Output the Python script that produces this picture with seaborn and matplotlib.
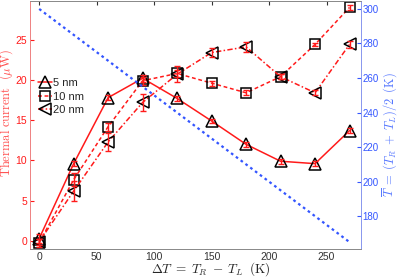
import numpy as np
import pandas as pd
import seaborn as sns
import matplotlib.pyplot as plt

# data
delta_t = [0, 30, 60, 90, 120, 150, 180, 210, 240, 270]
cur_5nm = [0.3, 9.6, 17.8, 20.2, 17.7, 14.9, 12.0, 9.9, 9.6, 13.7]
err_5nm = [0.6, 0.3, 0.3, 0.4, 0.3, 0.3, 0.3, 0.3, 0.3, 0.3]
cur_10nm = [-0.2, 7.6, 14.2, 19.9, 20.8, 19.6, 18.4, 20.4, 24.4, 29.0]
err_10nm = [0.5, 0.8, 0.5, 0.5, 0.4, 0.3, 0.3, 0.3, 0.2, 0.3]
cur_20nm = [-0.1, 6.2, 12.3, 17.2, 20.7, 23.4, 24.1, 20.4, 18.4, 24.4]
err_20nm = [0.4, 1.2, 1.1, 1.0, 1.0, 0.6, 0.6, 0.3, 0.3, 0.4]
labels = ['5 nm', '10 nm', '20 nm']

tbar_dt = [0, 270]
tbar = [300, 165]

sns.set_style("white")
plt.rcParams['mathtext.fontset'] = 'cm'
plt.rcParams['font.family'] = ['Liberation Sans', 'DejaVu Sans']

red = '#ff1a1a'
blue = '#3355ff'

fig = plt.figure(figsize=(3.99, 2.78), dpi=100)
ax = fig.add_axes([30 / 399, 1 - 249 / 278, 331 / 399, 248 / 278])
ax2 = ax.twinx()

# blue T-bar line on the right axis
sns.lineplot(x=tbar_dt, y=tbar, ax=ax2, color=blue, lw=1.6,
             linestyle=(0, (1.2, 1.5)))
ax2.annotate('', xy=(281, 195), xytext=(217, 195),
             arrowprops=dict(arrowstyle='-|>', color=blue, lw=1.0,
                             mutation_scale=8))

series = [
    (cur_5nm, err_5nm, '-', '^'),
    (cur_10nm, err_10nm, (0, (2.5, 1.8)), 's'),
    (cur_20nm, err_20nm, (0, (3.5, 1.5, 1, 1.5)), '<'),
]
for (cur, err, ls, mk), lab in zip(series, labels):
    df = pd.DataFrame({'dT': delta_t, 'I': cur})
    sns.lineplot(data=df, x='dT', y='I', ax=ax, color=red, lw=1.1,
                 linestyle=ls, marker=mk, markersize=9 if mk != 's' else 7,
                 markerfacecolor='none', markeredgecolor='black',
                 markeredgewidth=1.1, label=lab)
    ax.errorbar(delta_t, cur, yerr=err, fmt='none', ecolor=red,
                elinewidth=1.0, capsize=2.5, capthick=1.0, zorder=5)

ax.set_xlim(-8, 280)
ax.set_ylim(-1, 29.8)
ax2.set_ylim(161, 304.6)
ax.set_xticks([0, 50, 100, 150, 200, 250])
ax.set_yticks([0, 5, 10, 15, 20, 25])
ax2.set_yticks([180, 200, 220, 240, 260, 280, 300])

ax.tick_params(axis='x', direction='in', top=True, length=3, labelsize=7.5,
               pad=2, colors='#333333')
ax.tick_params(axis='y', direction='in', length=3, labelsize=7.5, pad=2,
               colors=red, labelcolor=red)
ax2.tick_params(axis='y', direction='in', length=3, labelsize=7, pad=1,
                colors=blue, labelcolor=blue)

for a in (ax, ax2):
    for s in a.spines.values():
        s.set_linewidth(0.6)
        s.set_color('#888888')
ax2.spines['left'].set_color('#ff8080')
ax2.spines['right'].set_color('#8899ff')

ax.set_xlabel(r'$\Delta T\;=\;T_R\;-\;T_L\;\;\mathrm{(K)}$', fontsize=9.5)
ax.set_ylabel(r'$\mathrm{Thermal\ current\ \ (}\mu\mathrm{W)}$', fontsize=9,
              color='#ff5050')
ax2.set_ylabel(r'$\overline{T}\;=\;(T_R\;+\;T_L)/2\;\;\mathrm{(K)}$',
               fontsize=9, color='#5577ff')
ax.xaxis.set_label_coords(0.545, -0.046)
ax.yaxis.set_label_coords(-0.044, 0.55)
ax2.yaxis.set_label_coords(1.057, 0.46)

ax.legend(loc='upper left', bbox_to_anchor=(0.0, 0.72), frameon=False,
          fontsize=8, handlelength=1.3, handletextpad=0.1,
          labelspacing=0.3, borderaxespad=0.3)
if ax2.get_legend() is not None:
    ax2.get_legend().remove()

fig.savefig('out.png', dpi=100)
